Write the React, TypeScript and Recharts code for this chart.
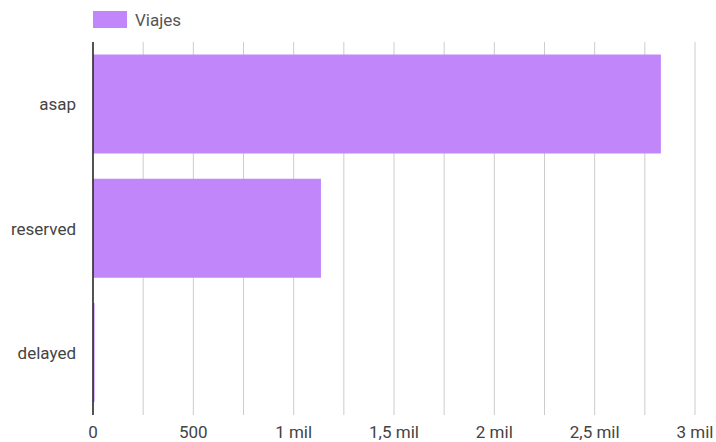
import { BarChart, Bar, XAxis, YAxis, CartesianGrid, Legend } from "recharts";

const categories = ["asap", "reserved", "delayed"];
const viajes = [2830, 1136, 8];
const xTicks = [0, 250, 500, 750, 1000, 1250, 1500, 1750, 2000, 2250, 2500, 2750, 3000];

const data = categories.map((name, i) => ({ name, Viajes: viajes[i] }));

const BAR_COLOR = "#c187fa";
const FONT = "Roboto, 'Noto Sans', sans-serif";

const formatTick = (v: number) => {
  if (v % 500 !== 0) return "";
  if (v < 1000) return String(v);
  return `${String(v / 1000).replace(".", ",")} mil`;
};

function LegendContent() {
  return (
    <div style={{ display: "flex", alignItems: "center", height: 17, fontFamily: FONT, fontSize: 17, color: "#555" }}>
      <span style={{ display: "inline-block", width: 34, height: 17, background: BAR_COLOR, marginRight: 8 }} />
      <span>Viajes</span>
    </div>
  );
}

export default function App() {
  return (
    <div style={{ position: "absolute", left: 0, top: 0, background: "#fff" }}>
      <BarChart
        width={716}
        height={442}
        data={data}
        layout="vertical"
        margin={{ top: 25, right: 21, bottom: 0, left: 0 }}
        barCategoryGap="10%"
      >
        <CartesianGrid horizontal={false} stroke="#cccccc" />
        <XAxis
          type="number"
          domain={[0, 3000]}
          ticks={xTicks}
          tickFormatter={formatTick}
          axisLine={false}
          tickLine={false}
          tickMargin={5}
          height={27}
          interval={0}
          tick={{ fill: "#444", fontSize: 17, fontFamily: FONT }}
        />
        <YAxis
          type="category"
          dataKey="name"
          width={93}
          axisLine={{ stroke: "#222", strokeWidth: 1.5 }}
          tickLine={false}
          tickMargin={11}
          tick={{ fill: "#444", fontSize: 17, fontFamily: FONT }}
        />
        <Legend
          verticalAlign="top"
          align="left"
          content={<LegendContent />}
          wrapperStyle={{ top: 11, left: 93, width: "auto" }}
        />
        <Bar dataKey="Viajes" fill={BAR_COLOR} isAnimationActive={false} />
      </BarChart>
    </div>
  );
}
